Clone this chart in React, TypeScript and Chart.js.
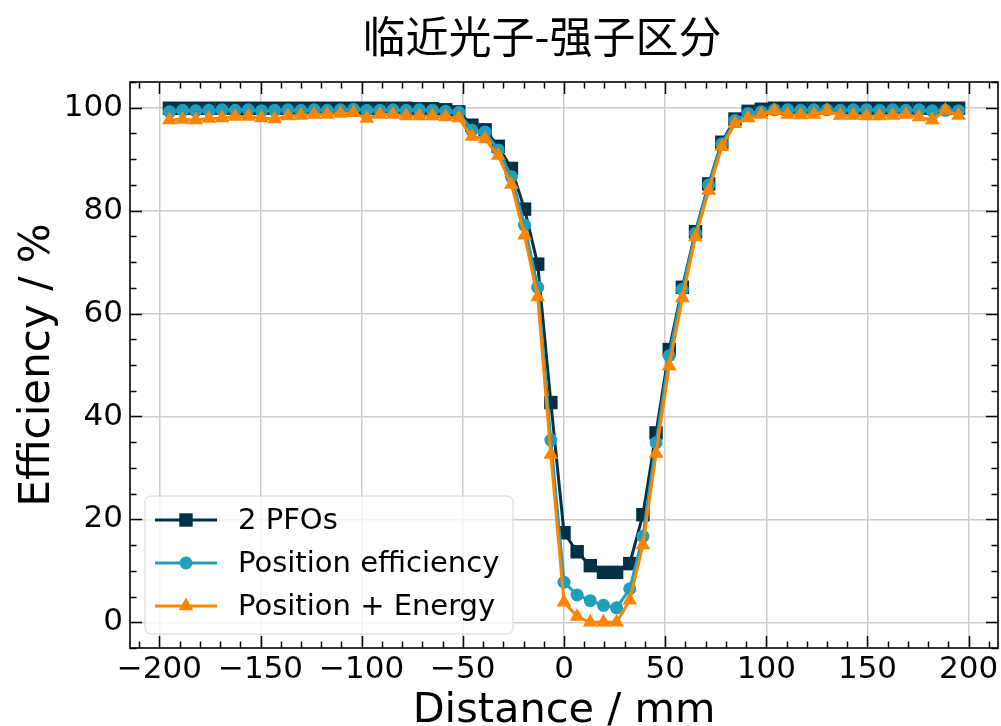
import React, { useEffect, useRef } from 'react';
import { Chart, registerables } from 'chart.js';

Chart.register(...registerables);

const TITLE = '临近光子-强子区分';
const X_LABEL = 'Distance / mm';
const Y_LABEL = 'Efficiency / %';

const distances = [
  -195, -188.5, -182, -175.5, -169, -162.5, -156, -149.5, -143, -136.5,
  -130, -123.5, -117, -110.5, -104, -97.5, -91, -84.5, -78, -71.5,
  -65, -58.5, -52, -45.5, -39, -32.5, -26, -19.5, -13, -6.5,
  0, 6.5, 13, 19.5, 26, 32.5, 39, 45.5, 52, 58.5,
  65, 71.5, 78, 84.5, 91, 97.5, 104, 110.5, 117, 123.5,
  130, 136.5, 143, 149.5, 156, 162.5, 169, 175.5, 182, 188.5, 195,
];

const pfos = [
  99.9, 99.9, 99.9, 99.9, 99.9, 99.9, 99.9, 99.9, 99.9, 99.9,
  99.9, 99.9, 99.9, 99.9, 99.9, 99.9, 99.9, 99.9, 99.9, 99.8,
  99.8, 99.6, 99.2, 96.6, 95.7, 92.5, 88.2, 80.3, 69.6, 42.7,
  17.4, 13.7, 11.0, 9.7, 9.7, 11.4, 20.9, 36.8, 53.0, 65.1,
  75.9, 85.2, 93.3, 97.8, 99.3, 99.7, 99.9, 99.9, 99.9, 99.9,
  99.9, 99.9, 99.9, 99.9, 99.9, 99.9, 99.9, 99.9, 99.9, 99.9, 99.9,
];

const positionEff = [
  99.2, 99.5, 99.4, 99.5, 99.6, 99.5, 99.6, 99.4, 99.5, 99.6,
  99.5, 99.6, 99.5, 99.6, 99.7, 99.5, 99.5, 99.6, 99.5, 99.6,
  99.5, 99.3, 99.1, 95.6, 95.3, 91.8, 86.6, 77.2, 65.1, 35.4,
  7.8, 5.3, 4.2, 3.3, 2.8, 6.5, 16.7, 34.9, 51.8, 64.7,
  75.6, 85.0, 93.0, 97.5, 98.9, 99.2, 99.6, 99.6, 99.5, 99.6,
  99.6, 99.5, 99.6, 99.6, 99.5, 99.6, 99.5, 99.6, 99.4, 99.5, 99.4,
];

const positionEnergy = [
  97.6, 97.7, 97.6, 97.9, 98.0, 98.3, 98.3, 98.0, 97.8, 98.4,
  98.5, 98.7, 98.7, 98.9, 99.0, 97.9, 98.7, 98.7, 98.4, 98.4,
  98.4, 98.2, 98.0, 94.4, 93.9, 90.7, 85.1, 75.2, 63.2, 32.6,
  3.9, 1.1, 0.0, 0.0, 0.0, 4.3, 15.0, 32.8, 49.8, 63.0,
  74.9, 83.9, 92.4, 96.9, 98.0, 98.7, 99.4, 98.7, 98.6, 98.7,
  99.4, 98.5, 98.5, 98.4, 98.4, 98.5, 98.7, 98.2, 97.6, 99.5, 98.5,
];

const seriesNames = ['2 PFOs', 'Position efficiency', 'Position + Energy'];
const seriesColors = ['#023047', '#219ebc', '#fb8500'];
const seriesMarkers = ['rect', 'circle', 'triangle'];
const seriesRadii = [9.5, 6.5, 8.5];

const xTickValues = [-200, -150, -100, -50, 0, 50, 100, 150, 200];
const yTickValues = [0, 20, 40, 60, 80, 100];
const X_MIN = -214.5;
const X_MAX = 214.5;
const Y_MIN = -5;
const Y_MAX = 105;

const TICK_FONT = 'DejaVu Sans';

function minorValues(min: number, max: number, step: number): number[] {
  const out: number[] = [];
  const start = Math.ceil(min / step) * step;
  for (let v = start; v <= max + 1e-9; v += step) out.push(Math.round(v * 1000) / 1000);
  return out;
}

const decorPlugin = {
  id: 'decor',
  afterDatasetsDraw(chart: any) {
    const { ctx, chartArea } = chart;
    const { left, right, top, bottom } = chartArea;
    const xs = chart.scales.x;
    const ys = chart.scales.y;
    ctx.save();
    ctx.strokeStyle = '#000';
    ctx.lineWidth = 1.5;
    ctx.beginPath();
    for (const v of minorValues(X_MIN, X_MAX, 10)) {
      const px = Math.round(xs.getPixelForValue(v)) + 0.5;
      const len = v % 50 === 0 ? 12 : 6.5;
      ctx.moveTo(px, bottom);
      ctx.lineTo(px, bottom - len);
      ctx.moveTo(px, top);
      ctx.lineTo(px, top + len);
    }
    for (const v of minorValues(Y_MIN, Y_MAX, 5)) {
      const py = Math.round(ys.getPixelForValue(v)) + 0.5;
      const len = v % 20 === 0 ? 12 : 6.5;
      ctx.moveTo(left, py);
      ctx.lineTo(left + len, py);
      ctx.moveTo(right, py);
      ctx.lineTo(right - len, py);
    }
    ctx.stroke();
    ctx.lineWidth = 1.6;
    ctx.strokeRect(left, top, right - left, bottom - top);

    // legend
    const bx = 145, by = 496, bw = 368, bh = 138, r = 6;
    ctx.beginPath();
    ctx.moveTo(bx + r, by);
    ctx.arcTo(bx + bw, by, bx + bw, by + bh, r);
    ctx.arcTo(bx + bw, by + bh, bx, by + bh, r);
    ctx.arcTo(bx, by + bh, bx, by, r);
    ctx.arcTo(bx, by, bx + bw, by, r);
    ctx.closePath();
    ctx.fillStyle = 'rgba(255,255,255,0.8)';
    ctx.fill();
    ctx.strokeStyle = '#d6d6d6';
    ctx.lineWidth = 1;
    ctx.stroke();
    seriesNames.forEach((name, i) => {
      const cy = 520 + i * 43;
      ctx.strokeStyle = seriesColors[i];
      ctx.lineWidth = 3;
      ctx.beginPath();
      ctx.moveTo(155, cy);
      ctx.lineTo(217, cy);
      ctx.stroke();
      ctx.fillStyle = seriesColors[i];
      ctx.beginPath();
      const mr = seriesRadii[i];
      if (seriesMarkers[i] === 'rect') {
        const s = mr * Math.SQRT1_2;
        ctx.rect(186 - s, cy - s, 2 * s, 2 * s);
      } else if (seriesMarkers[i] === 'circle') {
        ctx.arc(186, cy, mr, 0, Math.PI * 2);
      } else {
        const h = mr;
        ctx.moveTo(186, cy - h);
        ctx.lineTo(186 + h * Math.cos(Math.PI / 6), cy + h * 0.5);
        ctx.lineTo(186 - h * Math.cos(Math.PI / 6), cy + h * 0.5);
        ctx.closePath();
      }
      ctx.fill();
      ctx.fillStyle = '#000';
      ctx.font = `29px "${TICK_FONT}"`;
      ctx.textAlign = 'left';
      ctx.textBaseline = 'middle';
      ctx.fillText(name, 238, cy + 1);
    });

    // title
    ctx.fillStyle = '#000';
    ctx.font = '43px "Noto Sans CJK SC"';
    ctx.textAlign = 'center';
    ctx.textBaseline = 'middle';
    ctx.fillText(TITLE, 542, 37);
    ctx.restore();
  },
};

export default function App() {
  const canvasRef = useRef<HTMLCanvasElement | null>(null);

  useEffect(() => {
    const canvas = canvasRef.current;
    if (!canvas) return;
    const datasetValues = [pfos, positionEff, positionEnergy];
    const chart = new Chart(canvas, {
      type: 'line',
      data: {
        datasets: datasetValues.map((vals, i) => ({
          label: seriesNames[i],
          data: distances.map((x, j) => ({ x, y: vals[j] })),
          borderColor: seriesColors[i],
          backgroundColor: seriesColors[i],
          pointBackgroundColor: seriesColors[i],
          pointBorderColor: seriesColors[i],
          pointBorderWidth: 0,
          pointStyle: seriesMarkers[i] as any,
          pointRadius: seriesRadii[i],
          borderWidth: 3,
          tension: 0,
          order: 3 - i,
          clip: false as any,
        })),
      },
      options: {
        animation: false,
        responsive: false,
        events: [],
        layout: { autoPadding: false, padding: { left: 0, right: 3, top: 82, bottom: 0 } },
        plugins: {
          legend: { display: false },
          tooltip: { enabled: false },
          title: { display: false },
        },
        scales: {
          x: {
            type: 'linear',
            min: X_MIN,
            max: X_MAX,
            afterBuildTicks: (s: any) => {
              s.ticks = xTickValues.map((value) => ({ value }));
            },
            afterFit: (s: any) => {
              s.height = 78;
              s.paddingLeft = 0;
              s.paddingRight = 0;
            },
            ticks: {
              autoSkip: false,
              maxRotation: 0,
              minRotation: 0,
              padding: 3,
              color: '#000',
              font: { family: TICK_FONT, size: 31 },
              callback: (v: any) => String(v).replace('-', '\u2212'),
            },
            grid: { color: '#cccccc', lineWidth: 1.5, drawTicks: false },
            border: { display: false },
            title: {
              display: true,
              text: X_LABEL,
              color: '#000',
              font: { family: TICK_FONT, size: 41.5, lineHeight: 0.7 },
              padding: { top: 0, bottom: 0 },
            },
          },
          y: {
            type: 'linear',
            min: Y_MIN,
            max: Y_MAX,
            afterBuildTicks: (s: any) => {
              s.ticks = yTickValues.map((value) => ({ value }));
            },
            afterFit: (s: any) => {
              s.width = 130;
              s.paddingTop = 0;
              s.paddingBottom = 0;
            },
            ticks: {
              autoSkip: false,
              padding: 7,
              color: '#000',
              font: { family: TICK_FONT, size: 31 },
              callback: (v: any) => String(v),
            },
            grid: { color: '#cccccc', lineWidth: 1.5, drawTicks: false },
            border: { display: false },
            title: {
              display: true,
              text: Y_LABEL,
              color: '#000',
              font: { family: TICK_FONT, size: 42, lineHeight: 1.2 },
              padding: { top: 13, bottom: 0 },
            },
          },
        },
      },
      plugins: [decorPlugin],
    });
    return () => chart.destroy();
  }, []);

  return (
    <div style={{ position: 'absolute', left: 0, top: 0, width: 1001, height: 726, background: '#fff' }}>
      <canvas ref={canvasRef} width={1001} height={726} style={{ display: 'block' }} />
    </div>
  );
}
